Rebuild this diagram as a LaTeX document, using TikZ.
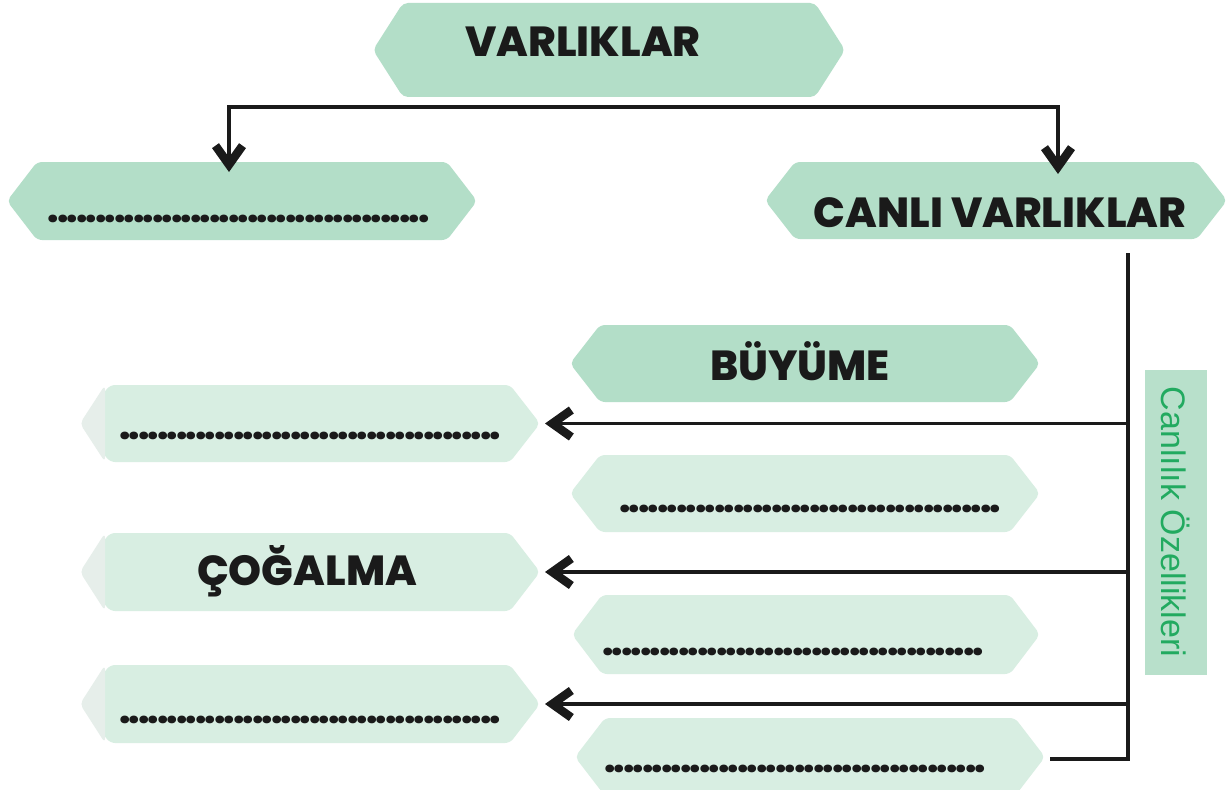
\documentclass[tikz,border=0pt]{standalone}
\usepackage{fontspec}
\setmainfont{Poppins}
\IfFontExistsTF{Poppins ExtraBold}{\newfontfamily\heavyfont{Poppins ExtraBold}}{\newfontfamily\heavyfont{Poppins}[UprightFont=*-Bold]}
\newfontfamily\labelfont{Liberation Sans}
\usetikzlibrary{arrows.meta}
\definecolor{mintdark}{HTML}{B3DEC8}
\definecolor{mintlight}{HTML}{D8EEE2}
\definecolor{mintfade}{HTML}{E6EEEA}
\definecolor{labelgreen}{HTML}{22AA60}
\definecolor{labelbox}{HTML}{B8E0CB}
\definecolor{ink}{HTML}{1A1A1A}
\newcommand\dotrow{\foreach \i in {1,...,40}{\hbox to 9.5pt{\hss.\hss}}}
\newcommand\hexbox[6]{%
  \node[boxnode, minimum width={#4-#2}, minimum height={#5-#3}] (#1) at ({(#2+#4)/2},{(#3+#5)/2}) {};
  \fill[#6, rounded corners=5pt] (#1.west) -- ([xshift=30pt]#1.north west) -- ([xshift=-30pt]#1.north east) -- (#1.east) -- ([xshift=-30pt]#1.south east) -- ([xshift=30pt]#1.south west) -- cycle;
}
\newcommand\fadeleft[1]{%
  \fill[mintfade, rounded corners=5pt] (#1.west) -- ([xshift=25pt]#1.north west) -- ([xshift=25pt]#1.south west) -- cycle;
}
\tikzset{
  boxnode/.style={rectangle, inner sep=0pt, outer sep=0pt},
  title/.style={font=\heavyfont\fontsize{42}{42}\selectfont, inner sep=0pt, text=ink, anchor=base},
  blank/.style={font=\heavyfont\fontsize{38}{38}\selectfont, inner sep=0pt, text=ink, anchor=base},
  conn/.style={line width=3.2pt, draw=ink},
  chev/.tip={Straight Barb[length=19pt,width=27pt,line width=8.5pt]},
  tip/.style={-chev},
  tips/.style={chev-chev},
}
\begin{document}
\begin{tikzpicture}[x=1pt, y=-1pt]
\clip (0,0) rectangle (1230,789);
\fill[white] (0,0) rectangle (1230,789);
% boxes
\hexbox{varliklar}{373}{3}{845}{97}{mintdark}
\hexbox{cansiz}{7}{162}{477}{240}{mintdark}
\hexbox{canli}{765}{162}{1227}{239}{mintdark}
\hexbox{buyume}{570}{325}{1040}{402}{mintdark}
\hexbox{rtwo}{570}{455}{1040}{532}{mintlight}
\hexbox{lone}{80}{385}{540}{462}{mintlight}
\fadeleft{lone}
\hexbox{cogalma}{80}{533}{540}{611}{mintlight}
\fadeleft{cogalma}
\hexbox{rthree}{572}{595}{1040}{674}{mintlight}
\hexbox{lthree}{80}{665}{540}{743}{mintlight}
\fadeleft{lthree}
\hexbox{rfour}{575}{718}{1045}{796}{mintlight}
% texts
\node[title] (tvar) at (583,57) {VARLIKLAR};
\node[title] (tcanli) at (1000,227) {CANLI VARLIKLAR};
\node[title] (tbuy) at (800,380) {BÜYÜME};
\node[title] (tcog) at (307,585) {ÇOĞALMA};
\node[blank] (dcansiz) at (238.5,222.5) {\dotrow};
\node[blank] (done) at (310,439.5) {\dotrow};
\node[blank] (dtwo) at (810,512.5) {\dotrow};
\node[blank] (dthree) at (793,655.5) {\dotrow};
\node[blank] (dlthree) at (310,723.5) {\dotrow};
\node[blank] (dfour) at (795,772.5) {\dotrow};
% side label
\node[fill=labelbox, minimum width=305pt, minimum height=62pt, inner sep=0pt, rotate=-90,
      font=\labelfont\fontsize{34}{34}\selectfont, text=labelgreen] (ozellik) at (1176,522) {Canlılık Özellikleri};
% top connector
\coordinate (barL) at ([yshift=-10pt]varliklar.south -| 229,0);
\coordinate (barR) at ([yshift=-10pt]varliklar.south -| 1058,0);
\draw[conn, tips] ([yshift=-10pt]cansiz.north -| barL) |- (barR) -- ([yshift=-12pt]canli.north -| barR);
% spine
\coordinate (spTop) at (1128,253);
\coordinate (spBot) at (1128,759);
\coordinate (stub) at (1050,759);
\draw[conn] (spTop) -- (spBot) -- (stub);
\draw[conn, tip] (lone.east -| spTop) -- ([xshift=5pt]lone.east);
\draw[conn, tip] (cogalma.east -| spTop) -- ([xshift=5pt]cogalma.east);
\draw[conn, tip] (lthree.east -| spTop) -- ([xshift=5pt]lthree.east);
\end{tikzpicture}
\end{document}
